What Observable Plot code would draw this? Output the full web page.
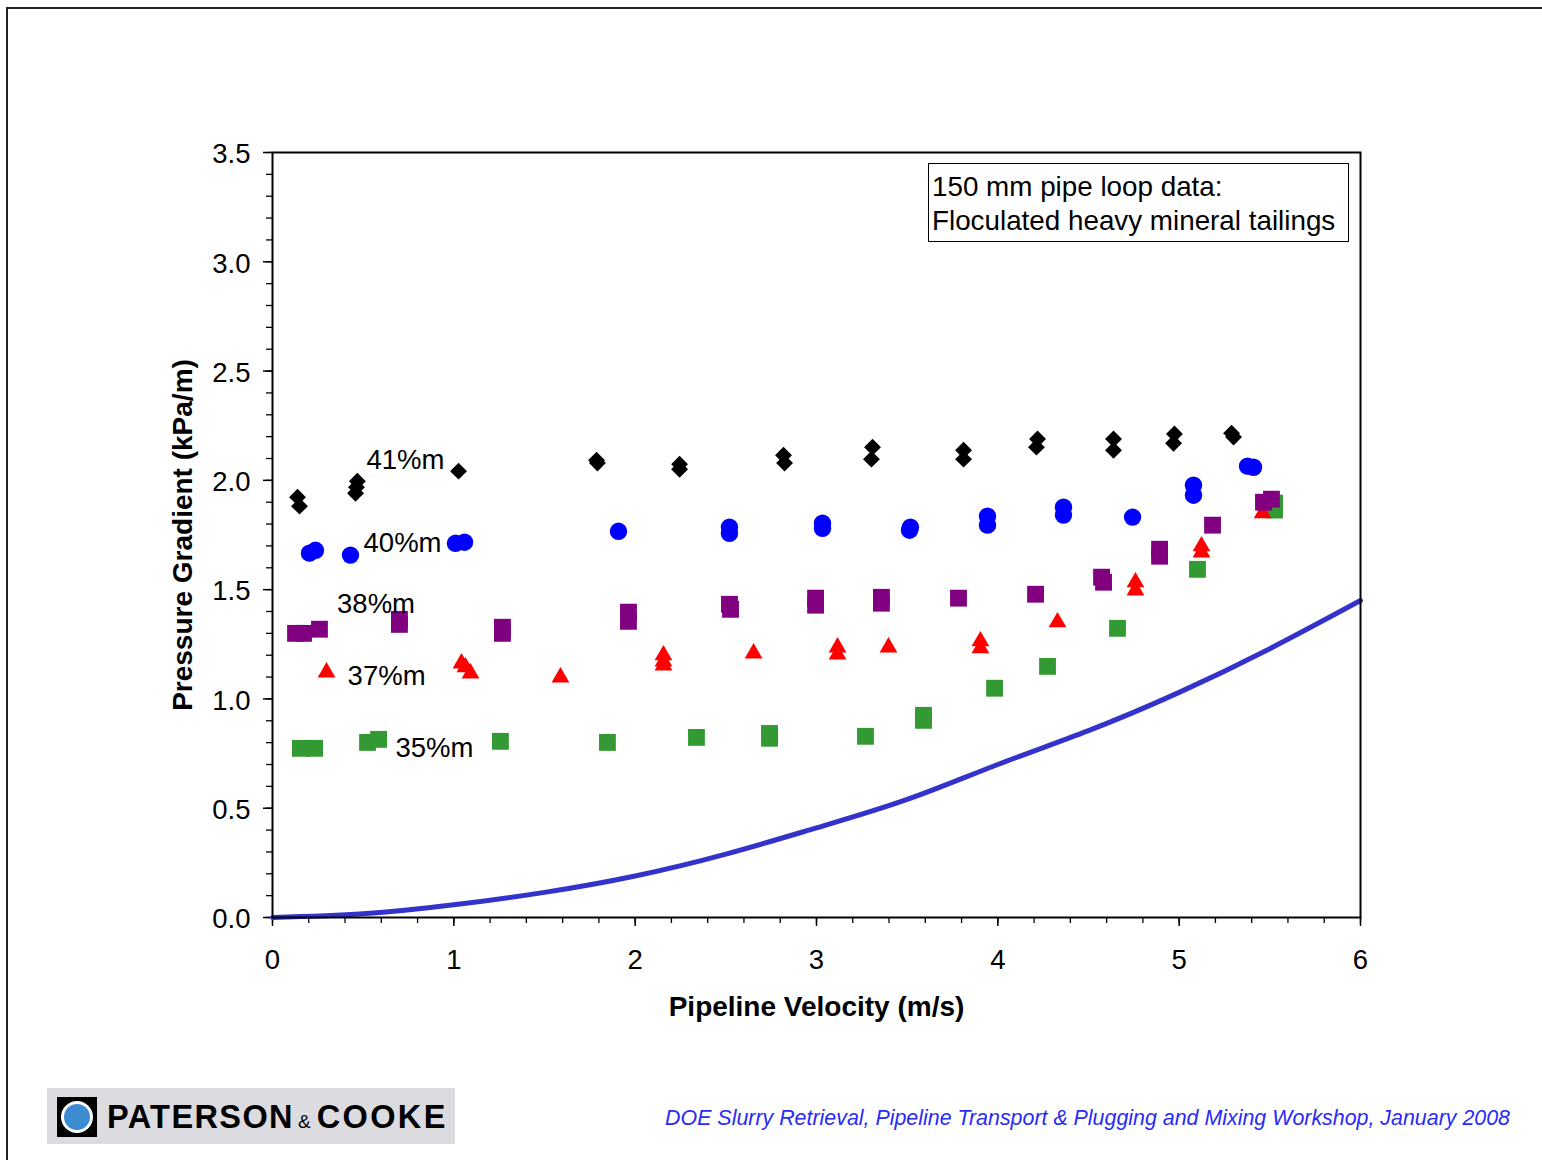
<!DOCTYPE html>
<html>
<head>
<meta charset="utf-8">
<script src="https://cdn.jsdelivr.net/npm/d3@7"></script>
<script src="https://cdn.jsdelivr.net/npm/@observablehq/plot@0.6"></script>
<style>
  html, body { margin: 0; padding: 0; background: #fff; overflow: hidden; }
  body { width: 1542px; height: 1160px; position: relative; font-family: "Liberation Sans", Arial, sans-serif; }
  #chart { position: absolute; left: 0; top: 0; }
  .slideframe { position: absolute; left: 6px; top: 7px; width: 1540px; height: 1160px;
    border-left: 2px solid #222; border-top: 2px solid #222; box-sizing: border-box; }
  .note { position: absolute; left: 928px; top: 163px; width: 421px; height: 79px; box-sizing: border-box;
    border: 1px solid #000; background: #fff; font-size: 27.8px; line-height: 34px; padding: 6px 0 0 3px; color: #000; white-space: nowrap; }
  .footer { position: absolute; right: 32px; top: 1105px; font-size: 21.4px; line-height: 26px; font-style: italic; color: #2a2af8; white-space: nowrap; }
  .logo { position: absolute; left: 47px; top: 1088px; width: 408px; height: 56px; background: #dcdce0; }
  .logo .icon { position: absolute; left: 10px; top: 9px; width: 40px; height: 40px; background: #000; }
  .logo .icon div { position: absolute; left: 4px; top: 4px; width: 26px; height: 26px; border-radius: 50%;
    background: #3d8bd0; border: 3px solid #fff; }
  .logo .name { position: absolute; left: 60px; top: 9px; font-family: "Liberation Sans", Arial, sans-serif; font-weight: bold;
    font-size: 32.5px; line-height: 40px; color: #000; white-space: nowrap; letter-spacing: 1.4px; }
  .logo .name span.amp { font-size: 19px; font-weight: normal; margin: 0 6px 0 4px; letter-spacing: 0; }
  .logo .name span.c { letter-spacing: 2.4px; }
</style>
</head>
<body>
<div class="slideframe"></div>
<div id="chart"></div>
<div class="note">150 mm pipe loop data:<br>Floculated heavy mineral tailings</div>
<div class="logo"><div class="icon"><div></div></div><div class="name">PATERSON<span class="amp">&amp;</span><span class="c">COOKE</span></div></div>
<div class="footer">DOE Slurry Retrieval, Pipeline Transport &amp; Plugging and Mixing Workshop, January 2008</div>
<script>
// ---- Data ----
// 41%m (black diamonds)
const v41 = [0.138, 0.149, 0.468, 0.463, 0.458, 1.026, 1.787, 1.792, 2.245, 2.245, 2.818, 2.824, 3.309, 3.303, 3.811, 3.811, 4.219, 4.213, 4.638, 4.638, 4.974, 4.969, 5.289, 5.300];
const g41 = [1.923, 1.882, 1.996, 1.969, 1.941, 2.042, 2.092, 2.079, 2.074, 2.051, 2.115, 2.079, 2.152, 2.097, 2.138, 2.097, 2.189, 2.152, 2.189, 2.138, 2.212, 2.170, 2.216, 2.198];
// 40%m (blue circles)
const v40 = [0.204, 0.237, 0.430, 1.009, 1.059, 1.908, 2.520, 2.520, 3.033, 3.033, 3.518, 3.513, 3.943, 3.943, 4.362, 4.362, 4.743, 5.079, 5.079, 5.377, 5.410];
const g40 = [1.667, 1.680, 1.658, 1.712, 1.717, 1.767, 1.786, 1.758, 1.804, 1.781, 1.786, 1.772, 1.836, 1.795, 1.877, 1.841, 1.832, 1.978, 1.932, 2.065, 2.060];
// 38%m (purple squares)
const v38 = [0.127, 0.171, 0.259, 0.700, 0.700, 1.268, 1.268, 1.963, 1.963, 2.520, 2.526, 2.995, 2.995, 3.358, 3.358, 3.783, 4.208, 4.572, 4.583, 4.892, 4.892, 5.184, 5.465, 5.509];
const g38 = [1.300, 1.300, 1.319, 1.364, 1.341, 1.328, 1.300, 1.397, 1.355, 1.433, 1.410, 1.461, 1.429, 1.465, 1.438, 1.461, 1.479, 1.557, 1.534, 1.685, 1.653, 1.795, 1.900, 1.914];
// 37%m (red triangles)
const v37 = [0.298, 1.042, 1.064, 1.092, 1.588, 2.156, 2.156, 2.156, 2.653, 3.116, 3.116, 3.397, 3.904, 3.904, 4.329, 4.759, 4.759, 5.123, 5.123, 5.460];
const g37 = [1.122, 1.163, 1.145, 1.117, 1.099, 1.200, 1.172, 1.154, 1.209, 1.236, 1.204, 1.236, 1.264, 1.232, 1.351, 1.534, 1.497, 1.699, 1.671, 1.850];
// 35%m (green squares)
const v35 = [0.154, 0.232, 0.524, 0.585, 1.257, 1.847, 2.338, 2.741, 2.741, 3.270, 3.590, 3.590, 3.982, 4.274, 4.660, 5.101, 5.526, 5.526];
const g35 = [0.774, 0.774, 0.801, 0.815, 0.806, 0.801, 0.824, 0.842, 0.820, 0.829, 0.925, 0.902, 1.049, 1.149, 1.323, 1.593, 1.896, 1.864];
// Water / model curve (blue line), read at regular velocities
const vCurve = [0, 0.5, 1, 1.5, 2, 2.5, 3, 3.5, 4, 4.5, 5, 5.5, 6];
const gCurve = [0, 0.017, 0.058, 0.115, 0.19, 0.29, 0.41, 0.54, 0.70, 0.855, 1.03, 1.23, 1.45];
// Series labels and where they sit (data units)
const seriesLabels = ["41%m", "40%m", "38%m", "37%m", "35%m"];
const labelV = [0.733, 0.717, 0.571, 0.629, 0.893];
const labelG = [2.093, 1.713, 1.434, 1.104, 0.774];
// Axis ticks
const xMajor = [0, 1, 2, 3, 4, 5, 6];
const xMinor = d3.range(0, 31).map(i => i / 5);
const yMajor = [0, 0.5, 1, 1.5, 2, 2.5, 3, 3.5];
const yMinor = d3.range(0, 36).map(i => i / 10);

const pts = (vs, gs) => vs.map((v, i) => ({v, g: gs[i]}));
const curveData = pts(vCurve, gCurve);
const labelData = seriesLabels.map((t, i) => ({t, v: labelV[i], g: labelG[i]}));

const chart = Plot.plot({
  width: 1542,
  height: 1160,
  marginLeft: 272,
  marginRight: 182,
  marginTop: 152,
  marginBottom: 243,
  style: {fontFamily: "'Liberation Sans', Arial, sans-serif", fontSize: "27px", color: "#000", background: "transparent", overflow: "visible"},
  x: {domain: [0, 6], label: null},
  y: {domain: [0, 3.5], label: null},
  marks: [
    Plot.axisX({ticks: xMinor, tickSize: 6, tickFormat: () => "", strokeWidth: 1.3}),
    Plot.axisY({ticks: yMinor, tickSize: 6, tickFormat: () => "", strokeWidth: 1.3}),
    Plot.axisX({ticks: xMajor, tickSize: 9, tickPadding: 23, tickFormat: d => String(d), fontSize: 27.5, strokeWidth: 1.5}),
    Plot.axisY({ticks: yMajor, tickSize: 9, tickFormat: () => "", strokeWidth: 1.5}),
    Plot.axisY({ticks: yMajor, tickSize: 0, tickPadding: 22, dy: 2, tickFormat: d3.format(".1f"), fontSize: 27.5}),
    Plot.line(curveData, {x: "v", y: "g", stroke: "#3333cc", strokeWidth: 5, curve: "natural"}),
    Plot.dot(pts(v35, g35), {x: "v", y: "g", symbol: "square", fill: "#339933", r: 9.5}),
    Plot.dot(pts(v37, g37), {x: "v", y: "g", symbol: "triangle", fill: "#ff0000", r: 6.6}),
    Plot.dot(pts(v38, g38), {x: "v", y: "g", symbol: "square", fill: "#800080", r: 9.5}),
    Plot.dot(pts(v40, g40), {x: "v", y: "g", symbol: "circle", fill: "#0000ff", r: 8.7}),
    Plot.dot(pts(v41, g41), {x: "v", y: "g", symbol: "diamond2", fill: "#000000", r: 7.6}),
    Plot.text(labelData, {x: "v", y: "g", text: "t", fontSize: 27.5, fill: "#000"}),
    Plot.frame({stroke: "#000", strokeWidth: 2}),
    Plot.text(["Pipeline Velocity (m/s)"], {frameAnchor: "bottom", lineAnchor: "middle", dy: 90, fontSize: 28, fontWeight: "bold", fill: "#000"}),
    Plot.text(["Pressure Gradient (kPa/m)"], {frameAnchor: "left", textAnchor: "middle", lineAnchor: "middle", dx: -89, rotate: -90, fontSize: 28, fontWeight: "bold", fill: "#000"})
  ]
});
document.getElementById("chart").appendChild(chart);
</script>
</body>
</html>
